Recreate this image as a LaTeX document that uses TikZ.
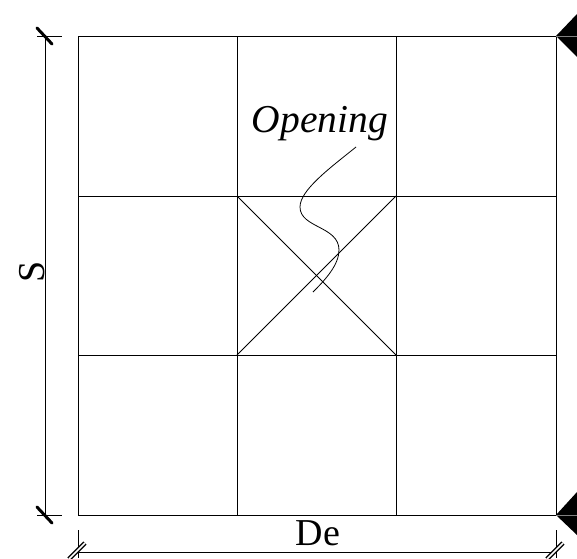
\documentclass[tikz,border=0pt]{standalone}
\usepackage{fontspec}
\setmainfont{Liberation Serif}
\usetikzlibrary{calc}

\tikzset{
  gridline/.style={line width=0.9pt},
  thinline/.style={line width=0.8pt},
  slashmark/.style={line width=3pt,line cap=round},
  hollowmark/.style={line width=1.4pt,double=white,double distance=1.5pt},
  bigtext/.style={font=\fontsize{38}{38}\selectfont,inner sep=0pt}
}

\begin{document}
\begin{tikzpicture}[x=1pt,y=-1pt]
    \useasboundingbox (0,0) rectangle (577,558);
    \coordinate (a) at (78,36);
    \coordinate (b) at (556,36);
    \coordinate (c) at (556,515);
    \coordinate (d) at (78,515);
    \coordinate (ia) at (237,196);
    \coordinate (ib) at (396,196);
    \coordinate (ic) at (396,355);
    \coordinate (id) at (237,355);
    \draw[gridline] (a) -- (b) -- (c) -- (d) -- cycle;
    \draw[gridline] (237,36) -- (237,515);
    \draw[gridline] (396,36) -- (396,515);
    \draw[gridline] (78,196) -- (556,196);
    \draw[gridline] (78,355) -- (556,355);
    \draw[gridline] (ia) -- (ic);
    \draw[gridline] (ib) -- (id);
    \fill[black] (b) -- (577,14) -- (577,57) -- cycle;
    \fill[black] (c) -- (577,492) -- (577,535) -- cycle;
    \draw[gray,thinline] (b) -- ++(21,0);
    \draw[gray,thinline] (c) -- ++(21,0);
    \coordinate (sa) at (45,36);
    \coordinate (sd) at (45,515);
    \draw[gridline] (sa) -- (sd);
    \draw[gridline] (37,36) -- (62,36);
    \draw[gridline] (37,515) -- (62,515);
    \draw[slashmark] ($(sa)+(-8,-8)$) -- ($(sa)+(7,8)$);
    \draw[slashmark] ($(sd)+(-8,-8)$) -- ($(sd)+(7,8)$);
    \coordinate (da) at (78,552);
    \coordinate (db) at (556,552);
    \draw[gridline] (da) -- (db);
    \draw[gridline] (78,530) -- (78,558);
    \draw[gridline] (556,530) -- (556,558);
    \draw[hollowmark] ($(da)+(-9,7)$) -- ($(da)+(7,-9)$);
    \draw[hollowmark] ($(db)+(-9,7)$) -- ($(db)+(7,-9)$);
    \node[bigtext,rotate=90] (span) at (32,272) {S};
    \node[bigtext] (depth) at (318,533) {De};
    \node[bigtext,font=\fontsize{39.5}{39.5}\selectfont\itshape] (opening) at (320,124) {Opening};
    \coordinate (pa) at (356,147);
    \coordinate (pb) at (300,207);
    \coordinate (pc) at (339,250);
    \coordinate (pd) at (313,292);
    \draw[thinline] (pa) .. controls (330,168) and (300,190) .. (pb) .. controls (300,228) and (339,226) .. (pc) .. controls (339,265) and (325,280) .. (pd);
  \end{tikzpicture}
\end{document}
